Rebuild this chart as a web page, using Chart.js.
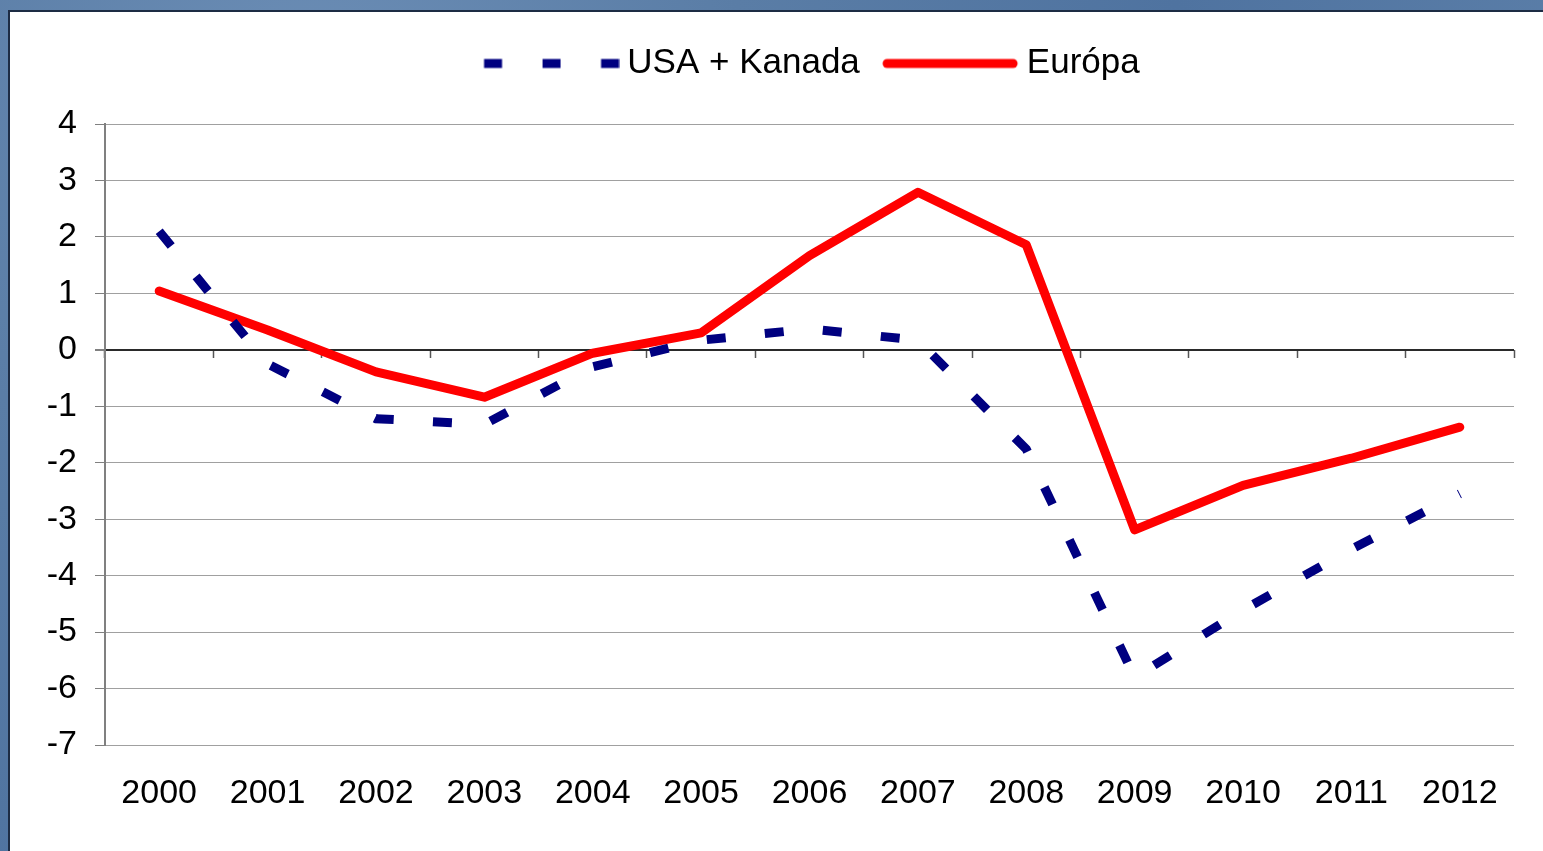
<!DOCTYPE html>
<html><head><meta charset="utf-8">
<script src="https://cdn.jsdelivr.net/npm/chart.js@4.4.1/dist/chart.umd.min.js"></script>
<style>
html,body{margin:0;padding:0;width:1543px;height:851px;overflow:hidden;background:#5a7da6;}
body{background:radial-gradient(circle at 20% 10%, #6b8db5 0%, #5a7da6 30%, #4f73a0 60%, #5f82ab 100%);}
#panel{position:absolute;left:8px;top:10px;right:0;bottom:0;background:#fff;border-top:2px solid #1d2c44;border-left:2px solid #1d2c44;}
canvas{position:absolute;left:0;top:0;}
</style></head><body>
<div id="panel"></div>
<canvas id="c" width="1543" height="851"></canvas>
<script>
const categories = ['2000','2001','2002','2003','2004','2005','2006','2007','2008','2009','2010','2011','2012'];
const usaKanada = [2.1, -0.25, -1.22, -1.32, -0.3, 0.17, 0.37, 0.17, -1.76, -5.8, -4.61, -3.53, -2.55];
const europa = [1.04, 0.35, -0.39, -0.84, -0.06, 0.3, 1.67, 2.79, 1.86, -3.19, -2.4, -1.92, -1.37];
const seriesNames = ['USA + Kanada', 'Európa'];
const yMin = -7, yMax = 4, yStep = 1;

const FONT = "'Liberation Sans', Arial, sans-serif";
const PAD_TOP = 27, CHART_TOP = 124;
const BOX_W = 130.5;

// legend swatches (style only)
function makeSwatch(color, dash, cap, offset) {
  const W = 150, L = 135;
  const cv = document.createElement('canvas');
  cv.width = W; cv.height = 12;
  const g = cv.getContext('2d');
  g.strokeStyle = color; g.lineWidth = 9; g.lineCap = cap;
  g.setLineDash(dash);
  g.beginPath();
  const inset = cap === 'round' ? 4.5 : 0;
  const x0 = W / 2 + offset - L / 2;
  g.moveTo(x0 + inset, 6); g.lineTo(x0 + L - inset, 6);
  g.stroke();
  return cv;
}
const blueSwatch = makeSwatch('#000080', [18, 40.5], 'butt', 7);
const redSwatch = makeSwatch('#ff0000', [], 'round', 6);

const legendHeightPlugin = {
  id: 'legendHeight',
  beforeLayout(chart) {
    const lg = chart.legend;
    if (lg && !lg._patched) {
      const fit = lg.fit;
      lg.fit = function() { fit.call(this); this.height = CHART_TOP - PAD_TOP; };
      lg._patched = true;
    }
  }
};

new Chart(document.getElementById('c'), {
  type: 'line',
  data: {
    labels: categories,
    datasets: [
      {
        label: seriesNames[0], data: usaKanada, xAxisID: 'x', yAxisID: 'y',
        borderColor: '#000080', backgroundColor: '#000080', borderWidth: 9,
        borderDash: [19, 39.3], borderCapStyle: 'butt', borderJoinStyle: 'miter',
        pointRadius: 0, pointStyle: blueSwatch, tension: 0, fill: false
      },
      {
        label: seriesNames[1], data: europa, xAxisID: 'x', yAxisID: 'y',
        borderColor: '#ff0000', backgroundColor: '#ff0000', borderWidth: 9,
        borderCapStyle: 'round', borderJoinStyle: 'round',
        pointRadius: 0, pointStyle: redSwatch, tension: 0, fill: false
      }
    ]
  },
  options: {
    responsive: false,
    animation: false,
    devicePixelRatio: 1,
    layout: { padding: { left: 20, right: 29, top: PAD_TOP, bottom: 0 } },
    plugins: {
      tooltip: { enabled: false },
      legend: {
        position: 'top',
        fullSize: false,
        labels: {
          usePointStyle: true,
          pointStyleWidth: BOX_W,
          padding: 19,
          color: '#000',
          font: { family: FONT, size: 35 }
        }
      }
    },
    scales: {
      x: {
        type: 'category',
        position: 'bottom',
        offset: true,
        grid: { display: false, drawTicks: false },
        border: { display: false },
        ticks: { color: '#000', font: { family: FONT, size: 34 }, padding: 28, maxRotation: 0, autoSkip: false },
        afterFit(scale) { scale.height = 106; }
      },
      xz: {
        type: 'category',
        position: { y: 0 },
        offset: true,
        grid: { display: true, drawOnChartArea: false, drawTicks: true, tickLength: 8, tickColor: '#555', tickWidth: 1.5, offset: true },
        border: { display: false },
        ticks: { display: false }
      },
      y: {
        type: 'linear',
        position: 'left',
        min: yMin, max: yMax,
        grid: {
          color: (ctx) => ctx.tick && ctx.tick.value === 0 ? '#2a2a2a' : '#a0a0a0',
          lineWidth: (ctx) => ctx.tick && ctx.tick.value === 0 ? 2 : 1,
          tickColor: '#808080', tickLength: 10, drawTicks: true
        },
        border: { display: true, color: '#808080', width: 2 },
        ticks: { stepSize: yStep, color: '#000', font: { family: FONT, size: 34 }, padding: 18 },
        afterFit(scale) { scale.width = 85; }
      }
    }
  },
  plugins: [legendHeightPlugin]
});
</script>
</body></html>
